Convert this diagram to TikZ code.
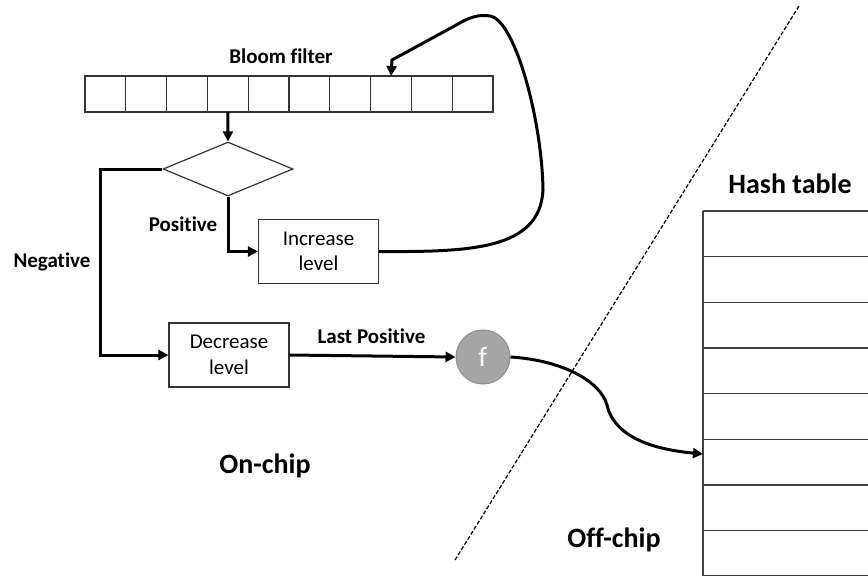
\documentclass[tikz,border=0pt]{standalone}
\usepackage{fontspec}
\setmainfont{Carlito}[Ligatures=NoCommon]
\usetikzlibrary{shapes.geometric,arrows.meta,calc}
\newcommand\lblsize{\fontsize{21}{25.5}\selectfont}
\newcommand\bigsize{\fontsize{28}{32}\selectfont}
\begin{document}
\begin{tikzpicture}[x=1pt,y=-1pt,
  thinline/.style={draw=black!80, line width=1.2pt},
  cell/.style={thinline, minimum width=40.8pt, minimum height=36pt, inner sep=0pt, outer sep=0pt},
  dia/.style={thinline, shape=diamond, minimum width=130pt, minimum height=54pt, inner sep=0pt},
  proc/.style={thinline, shape=rectangle, minimum width=120pt, minimum height=64pt, inner sep=0pt, align=center, font=\lblsize},
  fcirc/.style={shape=circle, fill=black!35, draw=black!45, line width=1pt, minimum size=54pt, inner sep=0pt, text=white, font=\bigsize},
  conn/.style={line width=3pt, -{Triangle[length=10pt,width=10pt]}},
  lbl/.style={font=\lblsize\bfseries, anchor=base, inner sep=0pt},
  biglbl/.style={font=\bigsize\bfseries, anchor=base, inner sep=0pt},
  htline/.style={draw=black!75, line width=1.2pt}]
\useasboundingbox (0,0) rectangle (868,576);
% Bloom filter array
\foreach \i in {1,...,10} {
  \node[cell] (c\i) at ({85+40.8*(\i-0.5)},94) {};
}
\node[lbl] (bftitle) at (281,63) {Bloom filter};
% decision
\node[dia] (d) at (228,169) {};
\node[proc] (inc) at (318.5,251.5) {Increase\\level};
\node[proc] (dec) at (229,355) {Decrease\\level};
\node[fcirc] (f) at (483,357) {f};
% labels
\node[lbl] (lpos) at (183,231) {Positive};
\node[lbl] (lneg) at (52,267) {Negative};
\node[lbl] (llast) at (371.5,343) {Last Positive};
\node[biglbl] (onchip) at (265,473) {On-chip};
\node[biglbl] (offchip) at (614,547) {Off-chip};
\node[biglbl] (httitle) at (790,193) {Hash table};
% hash table
\draw[htline] (703,211) -- (703,576);
\foreach \y in {211,256.7,302.3,348,393.7,439.3,485,530.7,575.5} {
  \draw[htline] (703,\y) -- (868,\y);
}
\coordinate (ht) at (703,454);
% dashed separator
\coordinate (sepA) at (455,560);
\coordinate (sepB) at (799,6);
\draw[line width=1.2pt, dash pattern=on 4pt off 2pt] (sepA) -- (sepB);
% connectors
\draw[conn] (c4.south) -- (d.north);
\draw[conn] (d.south) |- (inc.west);
\draw[conn] (d.west) -- (100,169) |- (dec.west);
\draw[conn] (dec.east) -- (f.west);
\draw[conn] (inc.east) .. controls (470,252) and (540,250) .. (543,190)
  .. controls (542,120) and (515,20) .. (490,16)
  .. controls (478,14) and (468,18) .. (458,24) -- (392,60) -- (c8.north);
\draw[conn] (f.east) .. controls (560,360) and (600,380) .. (607,405)
  .. controls (615,440) and (660,450) .. (ht);
\end{tikzpicture}
\end{document}
